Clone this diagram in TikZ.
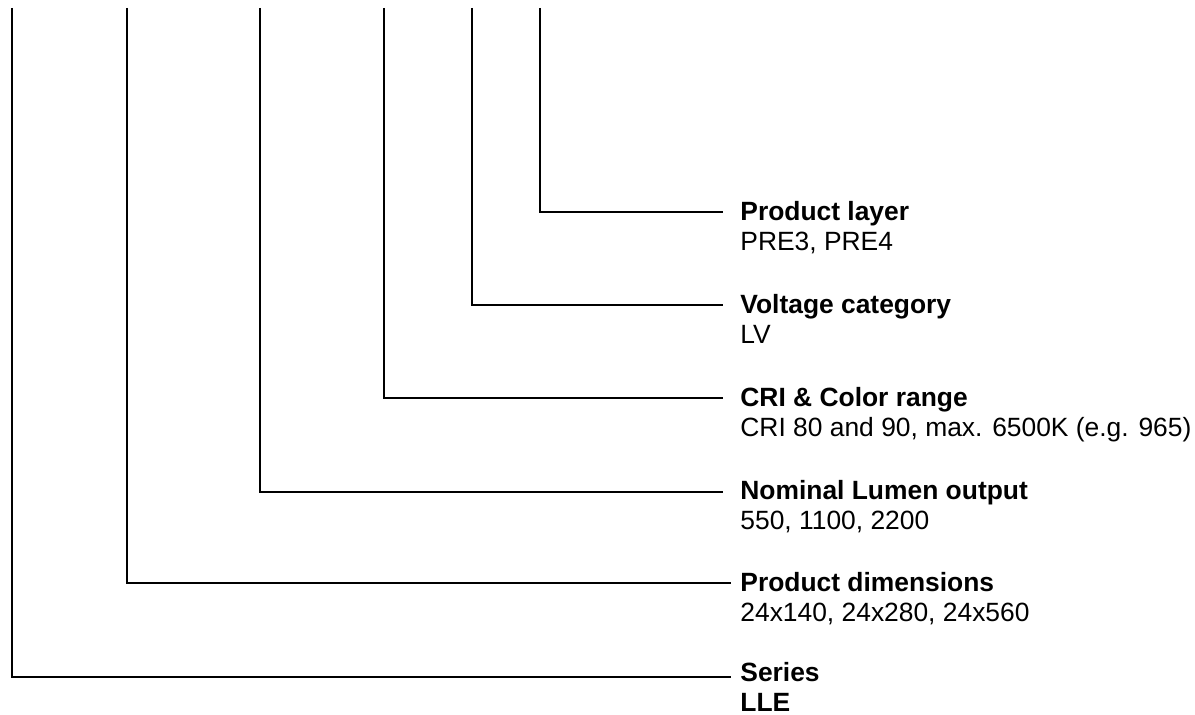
\documentclass[tikz,border=0pt]{standalone}
\usepackage{fontspec}
\setmainfont{Liberation Sans}
\begin{document}
\begin{tikzpicture}[x=0.5pt,y=-0.5pt,
  conn/.style={line width=1pt},
  ttl/.style={anchor=base west, inner sep=0pt, font=\fontsize{13.2}{15}\selectfont\bfseries},
  val/.style={anchor=base west, inner sep=0pt, font=\fontsize{13.2}{15}\selectfont}]
\useasboundingbox (0,0) rectangle (1195,715);
% tops
\coordinate (t1) at (11.7,8);
\coordinate (t2) at (126.5,8);
\coordinate (t3) at (259.6,8);
\coordinate (t4) at (383.8,8);
\coordinate (t5) at (471.5,8);
\coordinate (t6) at (539.5,8);
% line ends
\coordinate (e1) at (731,677);
\coordinate (e2) at (731,583.3);
\coordinate (e3) at (723,491.7);
\coordinate (e4) at (723,398);
\coordinate (e5) at (723,305);
\coordinate (e6) at (723,211.7);
% labels
\node[ttl] (l6) at (740,221) {Product layer};
\node[val] (v6) at (740,251) {PRE3, PRE4};
\node[ttl] (l5) at (740,314) {Voltage category};
\node[val] (v5) at (740,344) {LV};
\node[ttl] (l4) at (740,407) {CRI \& Color range};
\node[val] (v4) at (740,437) {CRI 80 and 90, max. 6500K (e.g. 965)};
\node[ttl] (l3) at (740,500) {Nominal Lumen output};
\node[val] (v3) at (740,530) {550, 1100, 2200};
\node[ttl] (l2) at (740,592) {Product dimensions};
\node[val] (v2) at (740,622) {24x140, 24x280, 24x560};
\node[ttl] (l1) at (740,682) {Series};
\node[ttl] (v1) at (740,712) {LLE};
% connectors
\draw[conn] (t1) |- (e1);
\draw[conn] (t2) |- (e2);
\draw[conn] (t3) |- (e3);
\draw[conn] (t4) |- (e4);
\draw[conn] (t5) |- (e5);
\draw[conn] (t6) |- (e6);
\end{tikzpicture}
\end{document}
